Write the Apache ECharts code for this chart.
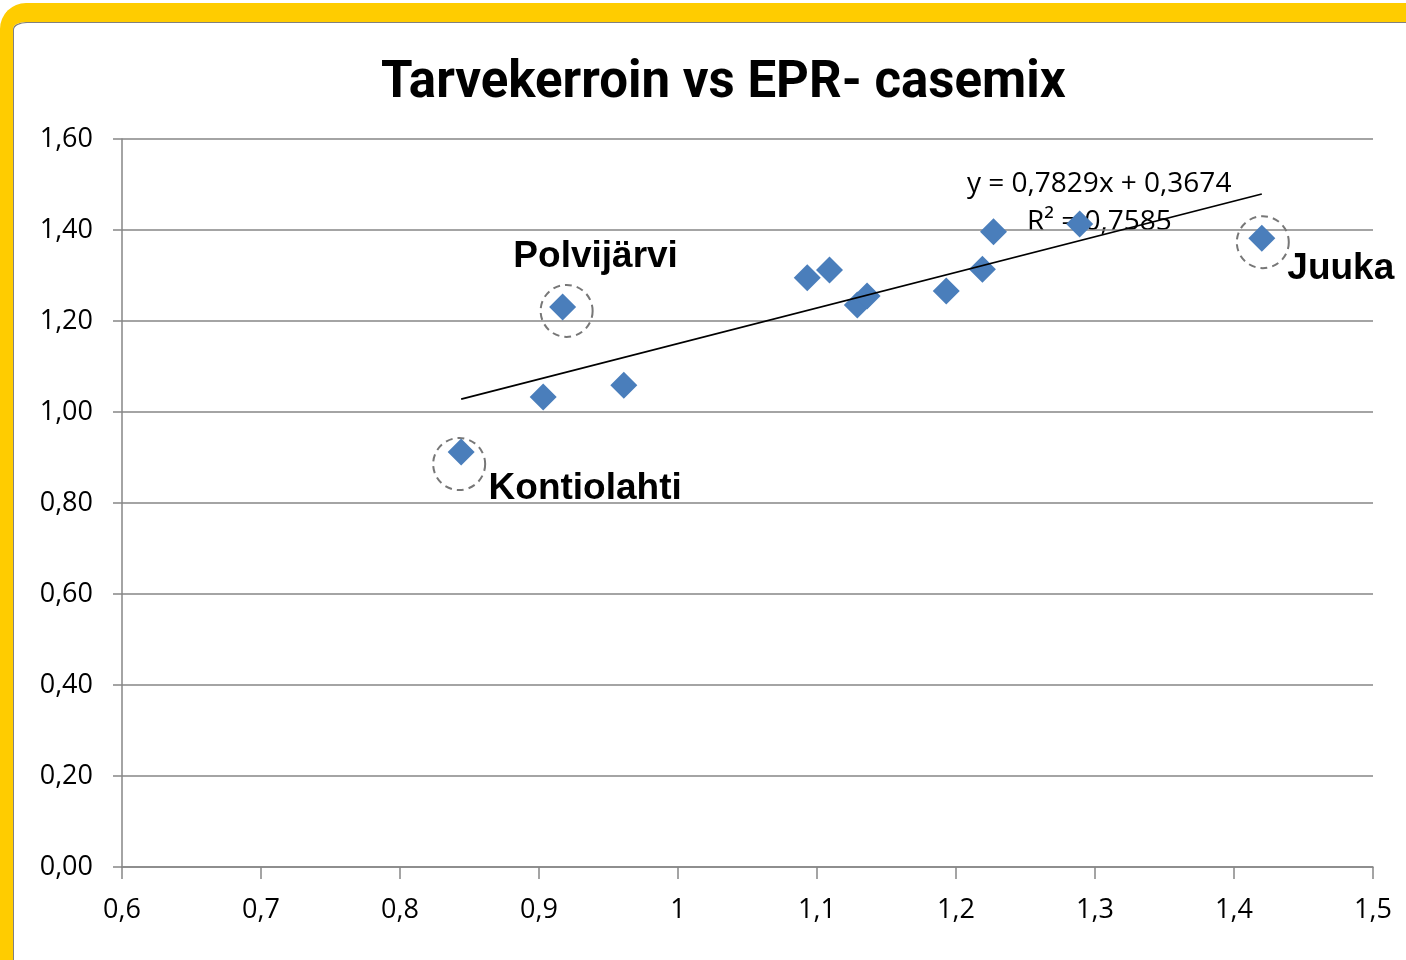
<!DOCTYPE html>
<html>
<head>
<meta charset="utf-8">
<script src="https://cdn.jsdelivr.net/npm/echarts@6/dist/echarts.min.js"></script>
<style>
  html, body { margin: 0; padding: 0; background: #fff; overflow: hidden; }
  #frame {
    position: absolute; left: 0; top: 3px; width: 1460px; height: 1000px;
    border-left: 13px solid #ffcc00; border-top: 19px solid #ffcc00;
    border-top-left-radius: 26px;
    box-shadow: inset 1px 1px 0 #808080;
    background: #fff;
  }
  #chart { position: absolute; left: 0; top: 0; width: 1406px; height: 960px; }
</style>
</head>
<body>
<div id="frame"></div>
<div id="chart"></div>
<script>
  // EPR-casemix (x) vs tarvekerroin (y)
  var casemix = [0.844, 0.903, 0.917, 0.961, 1.093, 1.109, 1.129, 1.136, 1.193, 1.219, 1.227, 1.289, 1.420];
  var tarvekerroin = [0.912, 1.033, 1.231, 1.059, 1.295, 1.312, 1.235, 1.255, 1.266, 1.314, 1.396, 1.413, 1.382];
  var names = ['Kontiolahti', '', 'Polvijärvi', '', '', '', '', '', '', '', '', '', 'Juuka'];

  // linear trend from the chart's own equation
  var slope = 0.7829;
  var intercept = 0.3674;
  var r2 = 0.7585;
  var trendX = [0.844, 1.42];

  var fmt = function (v, d) { return v.toFixed(d).replace('.', ','); };

  // label placement per highlighted municipality
  var labelOffset = {
    'Kontiolahti': [124, 37],
    'Polvijärvi': [33, -50],
    'Juuka': [79, 31]
  };
  var circleOffset = {
    'Kontiolahti': [-2, 12],
    'Polvijärvi': [4, 4],
    'Juuka': [1, 4]
  };

  var points = casemix.map(function (x, i) {
    var item = { value: [x, tarvekerroin[i]] };
    if (names[i]) {
      item.label = {
        show: true, position: 'inside', formatter: names[i],
        offset: labelOffset[names[i]],
        fontFamily: 'Liberation Sans', fontWeight: 'bold', fontSize: 37, color: '#000'
      };
    }
    return item;
  });
  var circles = [];
  casemix.forEach(function (x, i) {
    if (names[i]) circles.push({ value: [x, tarvekerroin[i]], symbolOffset: circleOffset[names[i]] });
  });
  var trend = trendX.map(function (x) { return [x, slope * x + intercept]; });

  var axisFont = { fontFamily: 'Open Sans', fontSize: 27, color: '#000' };

  var chart = echarts.init(document.getElementById('chart'));
  chart.setOption({
    animation: false,
    title: {
      text: 'Tarvekerroin vs EPR- casemix',
      left: 376, top: 54,
      textStyle: { fontFamily: 'Roboto', fontWeight: 'bold', fontSize: 51, color: '#000' }
    },
    grid: { left: 122, right: 33, top: 139, bottom: 93 },
    xAxis: {
      type: 'value', min: 0.6, max: 1.5, interval: 0.1,
      axisLine: { show: true, lineStyle: { color: '#868686', width: 1.5 } },
      axisTick: { show: true, length: 12, lineStyle: { color: '#868686', width: 1.5 } },
      splitLine: { show: false },
      axisLabel: Object.assign({
        margin: 30,
        formatter: function (v) {
          var r = Math.round(v * 10) / 10;
          return r === Math.round(r) ? String(r) : fmt(r, 1);
        }
      }, axisFont)
    },
    yAxis: {
      type: 'value', min: 0, max: 1.6, interval: 0.2,
      axisLine: { show: true, lineStyle: { color: '#868686', width: 1.5 } },
      axisTick: { show: true, inside: false, length: 9, lineStyle: { color: '#868686', width: 1.5 } },
      splitLine: { show: true, lineStyle: { color: '#868686', width: 1.5 } },
      axisLabel: Object.assign({
        margin: 29,
        formatter: function (v) { return fmt(v, 2); }
      }, axisFont)
    },
    series: [
      {
        type: 'scatter',
        symbol: 'diamond',
        symbolSize: 27,
        itemStyle: { color: '#4a7ebb', opacity: 1 },
        data: points,
        z: 2
      },
      {
        type: 'scatter',
        symbol: 'circle',
        symbolSize: 52,
        silent: true,
        itemStyle: { color: 'transparent', borderColor: '#777', borderWidth: 2, borderType: [7, 5], opacity: 1 },
        data: circles,
        z: 1
      },
      {
        type: 'line',
        data: trend,
        showSymbol: false,
        lineStyle: { color: '#000', width: 1.8 },
        z: 3
      }
    ],
    graphic: [
      {
        type: 'text', left: 967, top: 170,
        style: { text: 'y = ' + fmt(slope, 4) + 'x + ' + fmt(intercept, 4), fontFamily: 'Open Sans', fontSize: 28, fill: '#000' }
      },
      {
        type: 'text', left: 1027, top: 208,
        style: { text: 'R² = ' + fmt(r2, 4), fontFamily: 'Open Sans', fontSize: 28, fill: '#000' }
      }
    ]
  });
</script>
</body>
</html>
